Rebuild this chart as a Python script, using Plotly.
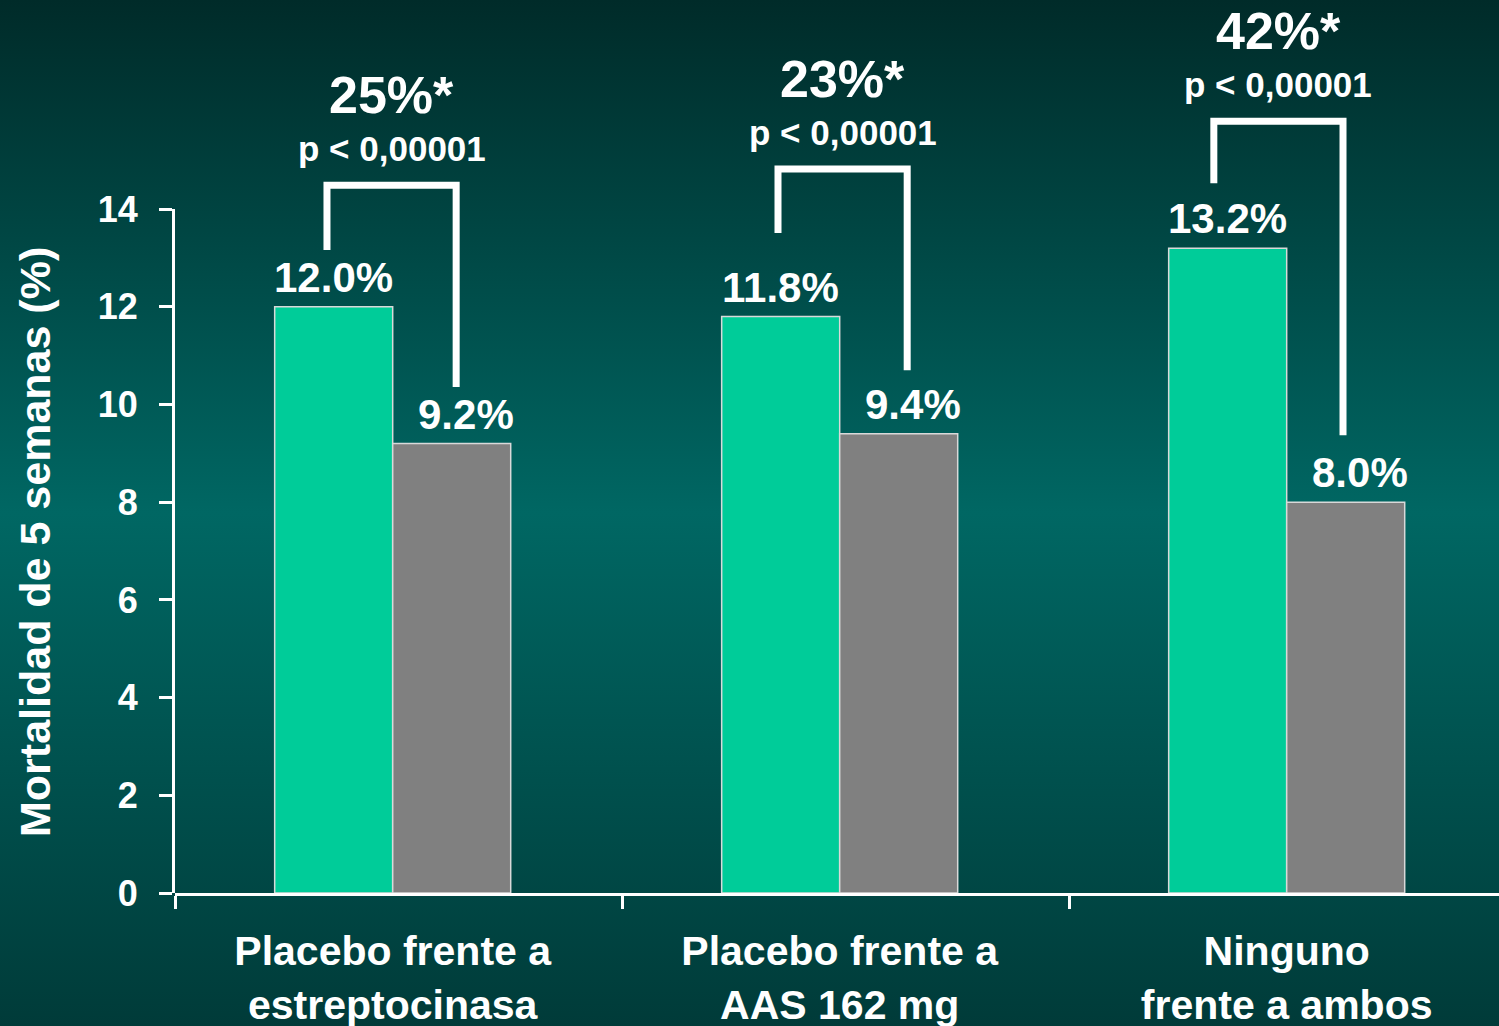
import base64
import plotly.graph_objects as go

# ---- data ----
categories = ["Placebo frente a<br>estreptocinasa", "Placebo frente a<br>AAS 162 mg", "Ninguno<br>frente a ambos"]
control_values = [12.0, 11.8, 13.2]
treated_values = [9.2, 9.4, 8.0]
control_labels = ["12.0%", "11.8%", "13.2%"]
treated_labels = ["9.2%", "9.4%", "8.0%"]
reduction_labels = ["25%*", "23%*", "42%*"]
p_labels = ["p < 0,00001", "p < 0,00001", "p < 0,00001"]
y_ticks = [0, 2, 4, 6, 8, 10, 12, 14]

# ---- styling / geometry ----
W, H = 1499, 1026
ML, MR, MT, MB = 175, 0, 0, 133
PLOT_W = W - ML - MR
PLOT_H = H - MT - MB
Y_AXIS_MAX = 14
Y_FULL_MAX = 18.28          # headroom above the axis for the bracket annotations
X_RANGE = [-0.5, -0.5 + PLOT_W / 447.0]
BAR_W = 0.264
BAR_SHIFT = -0.013

GREEN = "#00CC99"
GREY = "#808080"
WHITE = "#FFFFFF"
FONT = "Liberation Sans, Arial, Helvetica, sans-serif"

# comparison brackets: (left x, right x, top y, left foot y, right foot y)
brackets = [
    (-0.160, 0.129, 14.49, 13.16, 10.36),
    (0.849, 1.138, 14.82, 13.51, 10.70),
    (1.824, 2.113, 15.80, 14.53, 9.37),
]

x_pos = list(range(len(categories)))

fig = go.Figure()

fig.add_trace(go.Bar(
    x=x_pos, y=control_values, name="control",
    width=BAR_W, offset=BAR_SHIFT - BAR_W,
    marker=dict(color=GREEN, line=dict(color="#d9d9d9", width=1.5)),
    showlegend=False, hoverinfo="skip",
))
fig.add_trace(go.Bar(
    x=x_pos, y=treated_values, name="tratamiento",
    width=BAR_W, offset=BAR_SHIFT,
    marker=dict(color=GREY, line=dict(color="#d9d9d9", width=1.5)),
    showlegend=False, hoverinfo="skip",
))
# anchor trace for the visible y axis
fig.add_trace(go.Scatter(
    x=[0], y=[0], yaxis="y2", mode="markers",
    marker=dict(opacity=0), showlegend=False, hoverinfo="skip",
))

annotations = []
label_font = dict(family=FONT, size=42, color=WHITE, weight="bold")
for i in x_pos:
    annotations.append(dict(
        x=i + BAR_SHIFT - BAR_W / 2, y=control_values[i], xref="x", yref="y",
        text=control_labels[i], showarrow=False, yanchor="bottom",
        yshift=4, font=label_font,
    ))
    annotations.append(dict(
        x=i + BAR_SHIFT + BAR_W / 2, y=treated_values[i], xref="x", yref="y",
        text=treated_labels[i], showarrow=False, yanchor="bottom",
        xshift=14, yshift=4, font=label_font,
    ))

shapes = []
for i, (xl, xr, yt, yl, yr) in enumerate(brackets):
    shapes.append(dict(
        type="path", xref="x", yref="y",
        path=f"M {xl},{yl} L {xl},{yt} L {xr},{yt} L {xr},{yr}",
        line=dict(color=WHITE, width=7),
    ))
    xm = (xl + xr) / 2
    annotations.append(dict(
        x=xm, y=yt, xref="x", yref="y", text=p_labels[i], showarrow=False,
        yanchor="middle", yshift=37,
        font=dict(family=FONT, size=35, color=WHITE, weight="bold"),
    ))
    annotations.append(dict(
        x=xm, y=yt, xref="x", yref="y", text=reduction_labels[i], showarrow=False,
        yanchor="middle", yshift=90,
        font=dict(family=FONT, size=52, color=WHITE, weight="bold"),
    ))

annotations.append(dict(
    x=0, y=(PLOT_H - 542) / PLOT_H, xref="paper", yref="paper",
    xanchor="center", yanchor="middle",
    xshift=-140, textangle=-90, showarrow=False,
    text="Mortalidad de 5 semanas (%)",
    font=dict(family=FONT, size=43, color=WHITE, weight="bold"),
))

# background gradient (dark teal, lighter in the middle)
svg = f"""<svg xmlns='http://www.w3.org/2000/svg' width='{W}' height='{H}' viewBox='0 0 {W} {H}' preserveAspectRatio='none'>
<defs><linearGradient id='g' x1='0' y1='0' x2='0' y2='1'>
<stop offset='0' stop-color='#002b29'/>
<stop offset='0.5' stop-color='#006763'/>
<stop offset='1' stop-color='#003b39'/>
</linearGradient></defs>
<rect width='{W}' height='{H}' fill='url(#g)'/></svg>"""
bg_uri = "data:image/svg+xml;base64," + base64.b64encode(svg.encode()).decode()

fig.update_layout(
    width=W, height=H,
    margin=dict(l=ML, r=MR, t=MT, b=MB, pad=0, autoexpand=False),
    paper_bgcolor="#005451",
    plot_bgcolor="rgba(0,0,0,0)",
    barmode="overlay",
    images=[dict(
        source=bg_uri, xref="paper", yref="paper",
        x=-ML / PLOT_W, y=1 + MT / PLOT_H,
        sizex=W / PLOT_W, sizey=H / PLOT_H,
        xanchor="left", yanchor="top", sizing="stretch", layer="below",
    )],
    xaxis=dict(
        range=X_RANGE, tickmode="array",
        tickvals=[i + BAR_SHIFT for i in x_pos], ticktext=categories,
        ticks="", showline=True, linecolor=WHITE, linewidth=3,
        showgrid=False, zeroline=False, ticklabelstandoff=20, automargin=False,
        tickfont=dict(family=FONT, size=41, color=WHITE, weight="bold"),
        minor=dict(tickmode="array", tickvals=[-0.5, 0.5, 1.5], ticks="outside",
                   ticklen=13, tickwidth=3, tickcolor=WHITE, showgrid=False),
        anchor="y", fixedrange=True,
    ),
    yaxis=dict(
        range=[0, Y_FULL_MAX], domain=[0, 1], visible=False,
        showgrid=False, zeroline=False, fixedrange=True, automargin=False,
    ),
    yaxis2=dict(
        range=[0, Y_AXIS_MAX], domain=[0, Y_AXIS_MAX / Y_FULL_MAX], anchor="x",
        tickmode="array", tickvals=y_ticks, ticks="outside", ticklen=13,
        tickwidth=3, tickcolor=WHITE, showline=True, linecolor=WHITE, linewidth=3,
        showgrid=False, zeroline=False, ticklabelstandoff=14, automargin=False,
        tickfont=dict(family=FONT, size=36, color=WHITE, weight="bold"),
        fixedrange=True,
    ),
    annotations=annotations,
    shapes=shapes,
)

fig.write_html("out.html")
